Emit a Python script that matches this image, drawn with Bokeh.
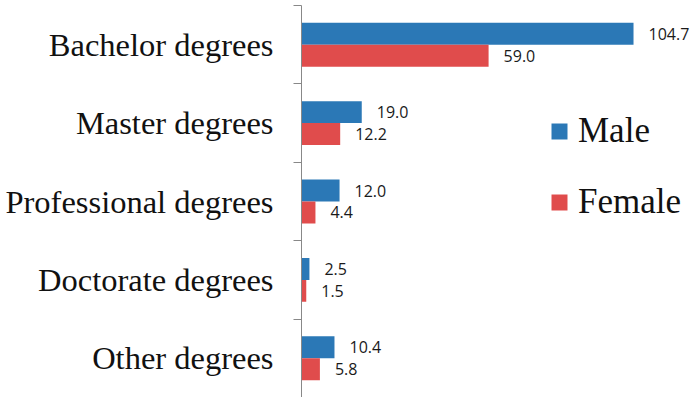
from bokeh.plotting import figure
from bokeh.models import ColumnDataSource, Range1d, FixedTicker, Legend, LegendItem
from bokeh.core.properties import value
from bokeh.embed import file_html
from bokeh.resources import INLINE

categories = ["Bachelor degrees", "Master degrees", "Professional degrees",
              "Doctorate degrees", "Other degrees"]
male = [104.7, 19.0, 12.0, 2.5, 10.4]
female = [59.0, 12.2, 4.4, 1.5, 5.8]
series_names = ["Male", "Female"]
colors = ["#2b78b6", "#e04c4c"]

n = len(categories)
centers = [n - 0.5 - i for i in range(n)]
off = 0.14
bh = 0.28

p = figure(width=692, height=397, output_backend="svg", toolbar_location=None,
           x_range=Range1d(0, 123.3), y_range=Range1d(0, n),
           x_axis_location=None, min_border_left=301, min_border_right=0,
           min_border_top=5, min_border_bottom=0)
p.outline_line_color = None
p.xgrid.visible = False
p.ygrid.visible = False
p.background_fill_color = "white"
p.border_fill_color = "white"

src_m = ColumnDataSource(dict(y=[c + off for c in centers], v=male,
                              t=[f"{v:.1f}" for v in male]))
src_f = ColumnDataSource(dict(y=[c - off for c in centers], v=female,
                              t=[f"{v:.1f}" for v in female]))

rm = p.hbar(y="y", right="v", left=0, height=bh, source=src_m,
            fill_color=colors[0], line_color=None)
rf = p.hbar(y="y", right="v", left=0, height=bh, source=src_f,
            fill_color=colors[1], line_color=None)

for s in (src_m, src_f):
    p.text(x="v", y="y", text="t", source=s, x_offset=15, text_align="left",
           text_baseline="middle", text_font=value("Open Sans"),
           text_font_size="16px", text_color="#1a1a1a")

ax = p.yaxis[0]
ax.ticker = FixedTicker(ticks=centers, minor_ticks=list(range(n + 1)))
ax.major_label_overrides = {c: cat for c, cat in zip(centers, categories)}
ax.major_tick_out = 0
ax.major_tick_in = 0
ax.minor_tick_out = 8
ax.minor_tick_in = 0
ax.minor_tick_line_color = "#888888"
ax.axis_line_color = "#888888"
ax.major_label_standoff = 20
ax.major_label_text_font = "Liberation Serif"
ax.major_label_text_font_size = "32.5px"
ax.major_label_text_color = "#111111"

legend = Legend(items=[LegendItem(label=series_names[0], renderers=[rm]),
                       LegendItem(label=series_names[1], renderers=[rf])],
                location=(248, 175), orientation="vertical",
                glyph_width=20, glyph_height=20, label_standoff=9,
                spacing=31, padding=0, margin=0,
                border_line_color=None, background_fill_alpha=0,
                label_text_font="Liberation Serif", label_text_font_size="35px",
                label_text_color="#111111")
p.add_layout(legend)

open("out.html", "w").write(file_html(p, INLINE))
